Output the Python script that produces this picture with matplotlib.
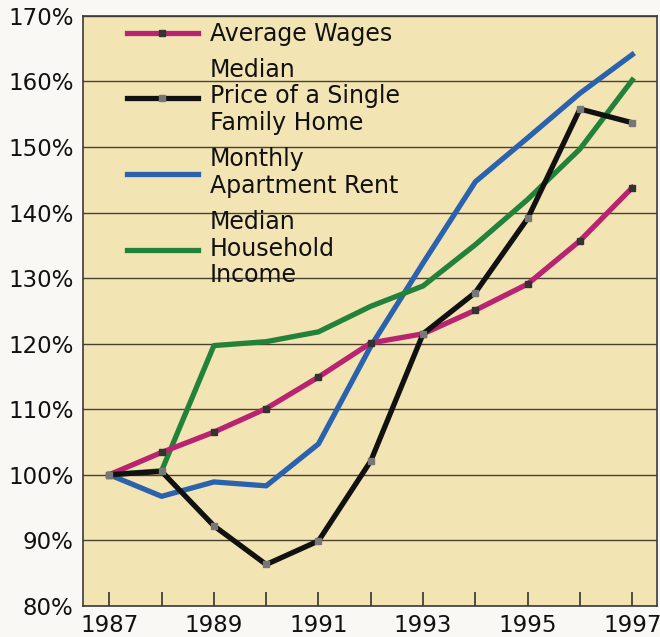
import numpy as np
import matplotlib
matplotlib.use("Agg")
import matplotlib.pyplot as plt

# index values, 1987 = 100%
years = list(range(1987, 1998))
avg_wages = [100, 103.4, 106.5, 110.1, 114.9, 120.1, 121.5, 125.1, 129.1, 135.7, 143.8]
home_price = [100, 100.5, 92.2, 86.3, 89.9, 102.1, 121.5, 127.8, 139.1, 155.8, 153.7]
apt_rent = [100, 96.7, 98.9, 98.3, 104.7, 119.6, 132.3, 144.7, 151.4, 158.2, 164.1]
hh_income = [100, 100.6, 119.7, 120.3, 121.8, 125.7, 128.8, 135.1, 142.0, 149.7, 160.2]

labels = ["Average Wages",
          "Median\nPrice of a Single\nFamily Home",
          "Monthly\nApartment Rent",
          "Median\nHousehold\nIncome"]
colors = ["#b8246f", "#111111", "#2b62ad", "#23823a"]

yticks = list(range(80, 171, 10))
xtick_labels = [str(y) if y % 2 == 1 else "" for y in years]

plt.rcParams['font.family'] = ['DejaVu Sans']

fig = plt.figure(figsize=(6.6, 6.37), dpi=100)
fig.patch.set_facecolor("#f9f8f5")
ax = fig.add_axes([0.126, 0.049, 0.87, 0.926])
ax.set_facecolor("#f3e4b4")

lw = 3.8
ax.plot(years, avg_wages, color=colors[0], lw=lw, marker="s", ms=4,
        mfc="#333333", mec="#333333", label=labels[0], zorder=3)
ax.plot(years, home_price, color=colors[1], lw=lw, marker="s", ms=4,
        mfc="#777777", mec="#777777", label=labels[1], zorder=3)
ax.plot(years, apt_rent, color=colors[2], lw=lw, label=labels[2], zorder=2)
ax.plot(years, hh_income, color=colors[3], lw=lw, label=labels[3], zorder=2)

ax.set_xlim(1986.5, 1997.48)
ax.set_ylim(80, 170)
ax.set_yticks(yticks)
ax.set_yticklabels([f"{v}%" for v in yticks], fontsize=16.5, color="#111111")
ax.set_xticks(years)
ax.set_xticklabels(xtick_labels, fontsize=16.5, color="#111111")
ax.tick_params(axis="y", length=0, pad=7)
ax.tick_params(axis="x", direction="in", length=10, width=1.2, color="#333333", pad=6)

ax.grid(axis="y", color="#4a4030", lw=1.0)
ax.set_axisbelow(True)
for side in ax.spines.values():
    side.set_color("#3a3a3a")
    side.set_linewidth(1.2)

leg = ax.legend(loc="upper left", frameon=False, fontsize=17, handlelength=3.0,
                handletextpad=0.5, labelspacing=0.5, borderaxespad=0.0,
                bbox_to_anchor=(0.06, 1.006))
for t in leg.get_texts():
    t.set_color("#111111")
    t.set_linespacing(1.15)

fig.savefig("out.png", dpi=100, facecolor=fig.get_facecolor())
